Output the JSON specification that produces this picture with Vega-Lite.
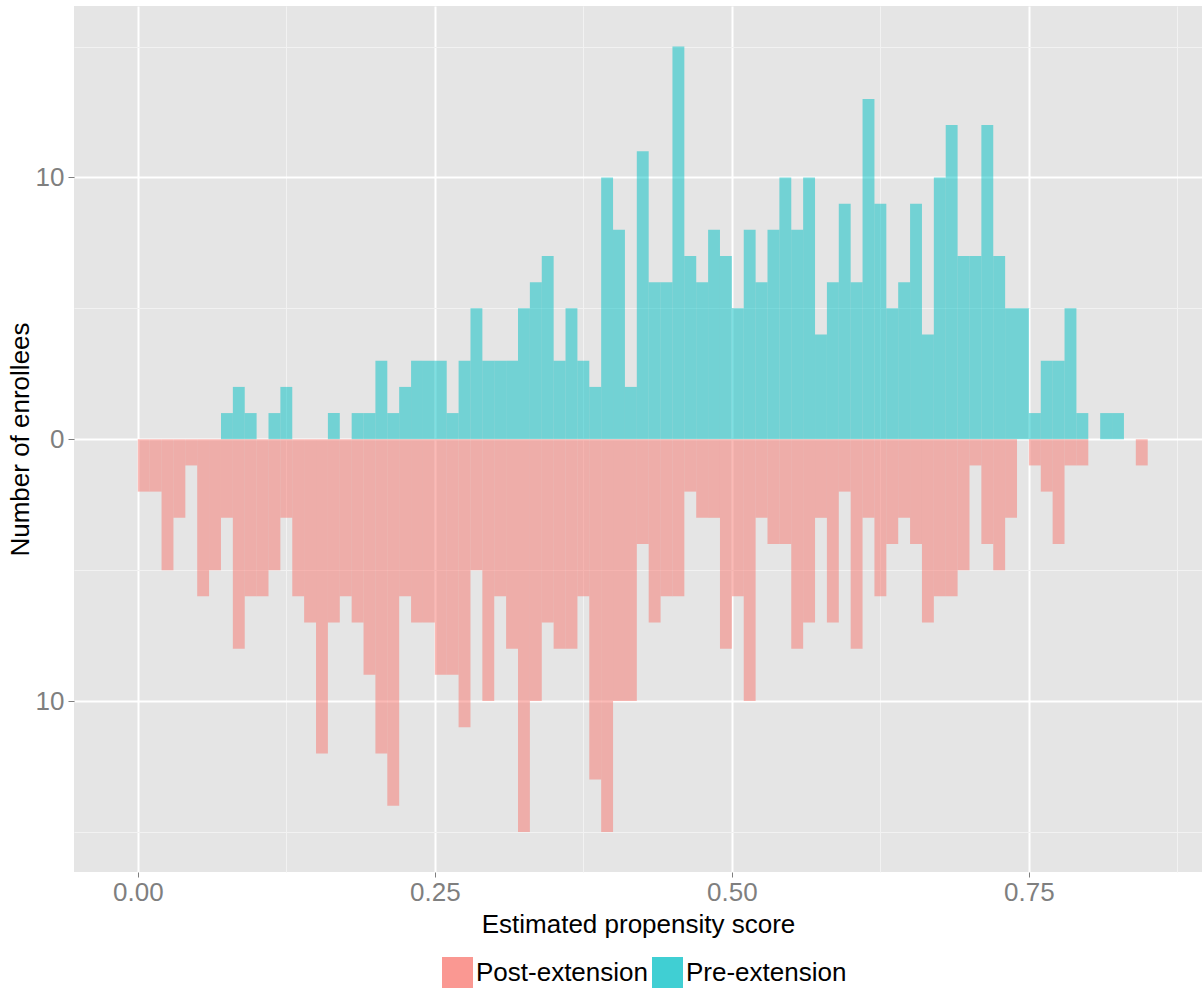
{
  "$schema": "https://vega.github.io/schema/vega-lite/v6.json",
  "width": 1128,
  "height": 866,
  "autosize": {"type": "none"},
  "padding": {"left": 74, "top": 6, "right": 0, "bottom": 122},
  "background": "white",
  "config": {"view": {"fill": "#E5E5E5", "stroke": null}, "font": "Liberation Sans"},
  "data": {"values": [
    {"group":"Pre-extension","lo":0.07,"hi":0.08,"count":1},
    {"group":"Pre-extension","lo":0.08,"hi":0.09,"count":2},
    {"group":"Pre-extension","lo":0.09,"hi":0.10,"count":1},
    {"group":"Pre-extension","lo":0.11,"hi":0.12,"count":1},
    {"group":"Pre-extension","lo":0.12,"hi":0.13,"count":2},
    {"group":"Pre-extension","lo":0.16,"hi":0.17,"count":1},
    {"group":"Pre-extension","lo":0.18,"hi":0.19,"count":1},
    {"group":"Pre-extension","lo":0.19,"hi":0.20,"count":1},
    {"group":"Pre-extension","lo":0.20,"hi":0.21,"count":3},
    {"group":"Pre-extension","lo":0.21,"hi":0.22,"count":1},
    {"group":"Pre-extension","lo":0.22,"hi":0.23,"count":2},
    {"group":"Pre-extension","lo":0.23,"hi":0.24,"count":3},
    {"group":"Pre-extension","lo":0.24,"hi":0.25,"count":3},
    {"group":"Pre-extension","lo":0.25,"hi":0.26,"count":3},
    {"group":"Pre-extension","lo":0.26,"hi":0.27,"count":1},
    {"group":"Pre-extension","lo":0.27,"hi":0.28,"count":3},
    {"group":"Pre-extension","lo":0.28,"hi":0.29,"count":5},
    {"group":"Pre-extension","lo":0.29,"hi":0.30,"count":3},
    {"group":"Pre-extension","lo":0.30,"hi":0.31,"count":3},
    {"group":"Pre-extension","lo":0.31,"hi":0.32,"count":3},
    {"group":"Pre-extension","lo":0.32,"hi":0.33,"count":5},
    {"group":"Pre-extension","lo":0.33,"hi":0.34,"count":6},
    {"group":"Pre-extension","lo":0.34,"hi":0.35,"count":7},
    {"group":"Pre-extension","lo":0.35,"hi":0.36,"count":3},
    {"group":"Pre-extension","lo":0.36,"hi":0.37,"count":5},
    {"group":"Pre-extension","lo":0.37,"hi":0.38,"count":3},
    {"group":"Pre-extension","lo":0.38,"hi":0.39,"count":2},
    {"group":"Pre-extension","lo":0.39,"hi":0.40,"count":10},
    {"group":"Pre-extension","lo":0.40,"hi":0.41,"count":8},
    {"group":"Pre-extension","lo":0.41,"hi":0.42,"count":2},
    {"group":"Pre-extension","lo":0.42,"hi":0.43,"count":11},
    {"group":"Pre-extension","lo":0.43,"hi":0.44,"count":6},
    {"group":"Pre-extension","lo":0.44,"hi":0.45,"count":6},
    {"group":"Pre-extension","lo":0.45,"hi":0.46,"count":15},
    {"group":"Pre-extension","lo":0.46,"hi":0.47,"count":7},
    {"group":"Pre-extension","lo":0.47,"hi":0.48,"count":6},
    {"group":"Pre-extension","lo":0.48,"hi":0.49,"count":8},
    {"group":"Pre-extension","lo":0.49,"hi":0.50,"count":7},
    {"group":"Pre-extension","lo":0.50,"hi":0.51,"count":5},
    {"group":"Pre-extension","lo":0.51,"hi":0.52,"count":8},
    {"group":"Pre-extension","lo":0.52,"hi":0.53,"count":6},
    {"group":"Pre-extension","lo":0.53,"hi":0.54,"count":8},
    {"group":"Pre-extension","lo":0.54,"hi":0.55,"count":10},
    {"group":"Pre-extension","lo":0.55,"hi":0.56,"count":8},
    {"group":"Pre-extension","lo":0.56,"hi":0.57,"count":10},
    {"group":"Pre-extension","lo":0.57,"hi":0.58,"count":4},
    {"group":"Pre-extension","lo":0.58,"hi":0.59,"count":6},
    {"group":"Pre-extension","lo":0.59,"hi":0.60,"count":9},
    {"group":"Pre-extension","lo":0.60,"hi":0.61,"count":6},
    {"group":"Pre-extension","lo":0.61,"hi":0.62,"count":13},
    {"group":"Pre-extension","lo":0.62,"hi":0.63,"count":9},
    {"group":"Pre-extension","lo":0.63,"hi":0.64,"count":5},
    {"group":"Pre-extension","lo":0.64,"hi":0.65,"count":6},
    {"group":"Pre-extension","lo":0.65,"hi":0.66,"count":9},
    {"group":"Pre-extension","lo":0.66,"hi":0.67,"count":4},
    {"group":"Pre-extension","lo":0.67,"hi":0.68,"count":10},
    {"group":"Pre-extension","lo":0.68,"hi":0.69,"count":12},
    {"group":"Pre-extension","lo":0.69,"hi":0.70,"count":7},
    {"group":"Pre-extension","lo":0.70,"hi":0.71,"count":7},
    {"group":"Pre-extension","lo":0.71,"hi":0.72,"count":12},
    {"group":"Pre-extension","lo":0.72,"hi":0.73,"count":7},
    {"group":"Pre-extension","lo":0.73,"hi":0.74,"count":5},
    {"group":"Pre-extension","lo":0.74,"hi":0.75,"count":5},
    {"group":"Pre-extension","lo":0.75,"hi":0.76,"count":1},
    {"group":"Pre-extension","lo":0.76,"hi":0.77,"count":3},
    {"group":"Pre-extension","lo":0.77,"hi":0.78,"count":3},
    {"group":"Pre-extension","lo":0.78,"hi":0.79,"count":5},
    {"group":"Pre-extension","lo":0.79,"hi":0.80,"count":1},
    {"group":"Pre-extension","lo":0.81,"hi":0.82,"count":1},
    {"group":"Pre-extension","lo":0.82,"hi":0.83,"count":1},
    {"group":"Post-extension","lo":0.00,"hi":0.01,"count":2},
    {"group":"Post-extension","lo":0.01,"hi":0.02,"count":2},
    {"group":"Post-extension","lo":0.02,"hi":0.03,"count":5},
    {"group":"Post-extension","lo":0.03,"hi":0.04,"count":3},
    {"group":"Post-extension","lo":0.04,"hi":0.05,"count":1},
    {"group":"Post-extension","lo":0.05,"hi":0.06,"count":6},
    {"group":"Post-extension","lo":0.06,"hi":0.07,"count":5},
    {"group":"Post-extension","lo":0.07,"hi":0.08,"count":3},
    {"group":"Post-extension","lo":0.08,"hi":0.09,"count":8},
    {"group":"Post-extension","lo":0.09,"hi":0.10,"count":6},
    {"group":"Post-extension","lo":0.10,"hi":0.11,"count":6},
    {"group":"Post-extension","lo":0.11,"hi":0.12,"count":5},
    {"group":"Post-extension","lo":0.12,"hi":0.13,"count":3},
    {"group":"Post-extension","lo":0.13,"hi":0.14,"count":6},
    {"group":"Post-extension","lo":0.14,"hi":0.15,"count":7},
    {"group":"Post-extension","lo":0.15,"hi":0.16,"count":12},
    {"group":"Post-extension","lo":0.16,"hi":0.17,"count":7},
    {"group":"Post-extension","lo":0.17,"hi":0.18,"count":6},
    {"group":"Post-extension","lo":0.18,"hi":0.19,"count":7},
    {"group":"Post-extension","lo":0.19,"hi":0.20,"count":9},
    {"group":"Post-extension","lo":0.20,"hi":0.21,"count":12},
    {"group":"Post-extension","lo":0.21,"hi":0.22,"count":14},
    {"group":"Post-extension","lo":0.22,"hi":0.23,"count":6},
    {"group":"Post-extension","lo":0.23,"hi":0.24,"count":7},
    {"group":"Post-extension","lo":0.24,"hi":0.25,"count":7},
    {"group":"Post-extension","lo":0.25,"hi":0.26,"count":9},
    {"group":"Post-extension","lo":0.26,"hi":0.27,"count":9},
    {"group":"Post-extension","lo":0.27,"hi":0.28,"count":11},
    {"group":"Post-extension","lo":0.28,"hi":0.29,"count":5},
    {"group":"Post-extension","lo":0.29,"hi":0.30,"count":10},
    {"group":"Post-extension","lo":0.30,"hi":0.31,"count":6},
    {"group":"Post-extension","lo":0.31,"hi":0.32,"count":8},
    {"group":"Post-extension","lo":0.32,"hi":0.33,"count":15},
    {"group":"Post-extension","lo":0.33,"hi":0.34,"count":10},
    {"group":"Post-extension","lo":0.34,"hi":0.35,"count":7},
    {"group":"Post-extension","lo":0.35,"hi":0.36,"count":8},
    {"group":"Post-extension","lo":0.36,"hi":0.37,"count":8},
    {"group":"Post-extension","lo":0.37,"hi":0.38,"count":6},
    {"group":"Post-extension","lo":0.38,"hi":0.39,"count":13},
    {"group":"Post-extension","lo":0.39,"hi":0.40,"count":15},
    {"group":"Post-extension","lo":0.40,"hi":0.41,"count":10},
    {"group":"Post-extension","lo":0.41,"hi":0.42,"count":10},
    {"group":"Post-extension","lo":0.42,"hi":0.43,"count":4},
    {"group":"Post-extension","lo":0.43,"hi":0.44,"count":7},
    {"group":"Post-extension","lo":0.44,"hi":0.45,"count":6},
    {"group":"Post-extension","lo":0.45,"hi":0.46,"count":6},
    {"group":"Post-extension","lo":0.46,"hi":0.47,"count":2},
    {"group":"Post-extension","lo":0.47,"hi":0.48,"count":3},
    {"group":"Post-extension","lo":0.48,"hi":0.49,"count":3},
    {"group":"Post-extension","lo":0.49,"hi":0.50,"count":8},
    {"group":"Post-extension","lo":0.50,"hi":0.51,"count":6},
    {"group":"Post-extension","lo":0.51,"hi":0.52,"count":10},
    {"group":"Post-extension","lo":0.52,"hi":0.53,"count":3},
    {"group":"Post-extension","lo":0.53,"hi":0.54,"count":4},
    {"group":"Post-extension","lo":0.54,"hi":0.55,"count":4},
    {"group":"Post-extension","lo":0.55,"hi":0.56,"count":8},
    {"group":"Post-extension","lo":0.56,"hi":0.57,"count":7},
    {"group":"Post-extension","lo":0.57,"hi":0.58,"count":3},
    {"group":"Post-extension","lo":0.58,"hi":0.59,"count":7},
    {"group":"Post-extension","lo":0.59,"hi":0.60,"count":2},
    {"group":"Post-extension","lo":0.60,"hi":0.61,"count":8},
    {"group":"Post-extension","lo":0.61,"hi":0.62,"count":3},
    {"group":"Post-extension","lo":0.62,"hi":0.63,"count":6},
    {"group":"Post-extension","lo":0.63,"hi":0.64,"count":4},
    {"group":"Post-extension","lo":0.64,"hi":0.65,"count":3},
    {"group":"Post-extension","lo":0.65,"hi":0.66,"count":4},
    {"group":"Post-extension","lo":0.66,"hi":0.67,"count":7},
    {"group":"Post-extension","lo":0.67,"hi":0.68,"count":6},
    {"group":"Post-extension","lo":0.68,"hi":0.69,"count":6},
    {"group":"Post-extension","lo":0.69,"hi":0.70,"count":5},
    {"group":"Post-extension","lo":0.70,"hi":0.71,"count":1},
    {"group":"Post-extension","lo":0.71,"hi":0.72,"count":4},
    {"group":"Post-extension","lo":0.72,"hi":0.73,"count":5},
    {"group":"Post-extension","lo":0.73,"hi":0.74,"count":3},
    {"group":"Post-extension","lo":0.75,"hi":0.76,"count":1},
    {"group":"Post-extension","lo":0.76,"hi":0.77,"count":2},
    {"group":"Post-extension","lo":0.77,"hi":0.78,"count":4},
    {"group":"Post-extension","lo":0.78,"hi":0.79,"count":1},
    {"group":"Post-extension","lo":0.79,"hi":0.80,"count":1},
    {"group":"Post-extension","lo":0.84,"hi":0.85,"count":1}
  ]},
  "transform": [
    {"calculate": "datum.group === 'Post-extension' ? -datum.count : datum.count", "as": "signed"}
  ],
  "mark": {"type": "bar", "opacity": 0.5, "strokeWidth": 0},
  "encoding": {
    "x": {
      "field": "lo", "type": "quantitative",
      "scale": {"domain": [-0.0537, 0.8957], "nice": false, "zero": false, "padding": 0},
      "axis": {
        "values": [0, 0.125, 0.25, 0.375, 0.5, 0.625, 0.75, 0.875],
        "labelExpr": "round(datum.value*1000) % 250 === 0 ? format(datum.value, '.2f') : ''",
        "title": "Estimated propensity score",
        "grid": true,
        "gridColor": {"condition": {"test": "round(datum.value*1000) % 250 === 0", "value": "#FFFFFF"}, "value": "#F2F2F2"},
        "gridWidth": {"condition": {"test": "round(datum.value*1000) % 250 === 0", "value": 2}, "value": 1},
        "tickColor": "#7F7F7F",
        "tickOpacity": {"condition": {"test": "round(datum.value*1000) % 250 === 0", "value": 1}, "value": 0},
        "tickSize": 5,
        "domain": false,
        "labelColor": "#7F7F7F",
        "labelFontSize": 26,
        "labelPadding": 2,
        "labelOverlap": false,
        "labelFlush": false,
        "titleFontSize": 26,
        "titleFontWeight": "normal",
        "titleColor": "#000000",
        "titlePadding": 6
      }
    },
    "x2": {"field": "hi"},
    "y": {
      "field": "signed", "type": "quantitative",
      "scale": {"domain": [-16.53, 16.55], "nice": false, "zero": false, "padding": 0},
      "axis": {
        "values": [-15, -10, -5, 0, 5, 10, 15],
        "labelExpr": "datum.value % 10 === 0 ? format(abs(datum.value), 'd') : ''",
        "title": "Number of enrollees",
        "grid": true,
        "gridColor": {"condition": {"test": "datum.value % 10 === 0", "value": "#FFFFFF"}, "value": "#F2F2F2"},
        "gridWidth": {"condition": {"test": "datum.value % 10 === 0", "value": 2}, "value": 1},
        "tickColor": "#7F7F7F",
        "tickOpacity": {"condition": {"test": "datum.value % 10 === 0", "value": 1}, "value": 0},
        "tickSize": 6,
        "domain": false,
        "labelColor": "#7F7F7F",
        "labelFontSize": 26,
        "labelPadding": 4,
        "labelOverlap": false,
        "labelFlush": false,
        "titleFontSize": 26,
        "titleFontWeight": "normal",
        "titleColor": "#000000",
        "titlePadding": 2
      }
    },
    "y2": {"datum": 0},
    "color": {
      "field": "group", "type": "nominal",
      "scale": {"domain": ["Post-extension", "Pre-extension"], "range": ["#F8766D", "#00BFC4"]},
      "legend": {
        "title": null,
        "orient": "none",
        "legendX": 368,
        "legendY": 951,
        "direction": "horizontal",
        "symbolType": "square",
        "symbolSize": 961,
        "symbolOpacity": 0.75,
        "symbolStrokeWidth": 0,
        "labelFontSize": 26,
        "labelColor": "#000000",
        "labelOffset": 3,
        "labelLimit": 400,
        "columnPadding": 4,
        "padding": 0
      }
    }
  }
}
